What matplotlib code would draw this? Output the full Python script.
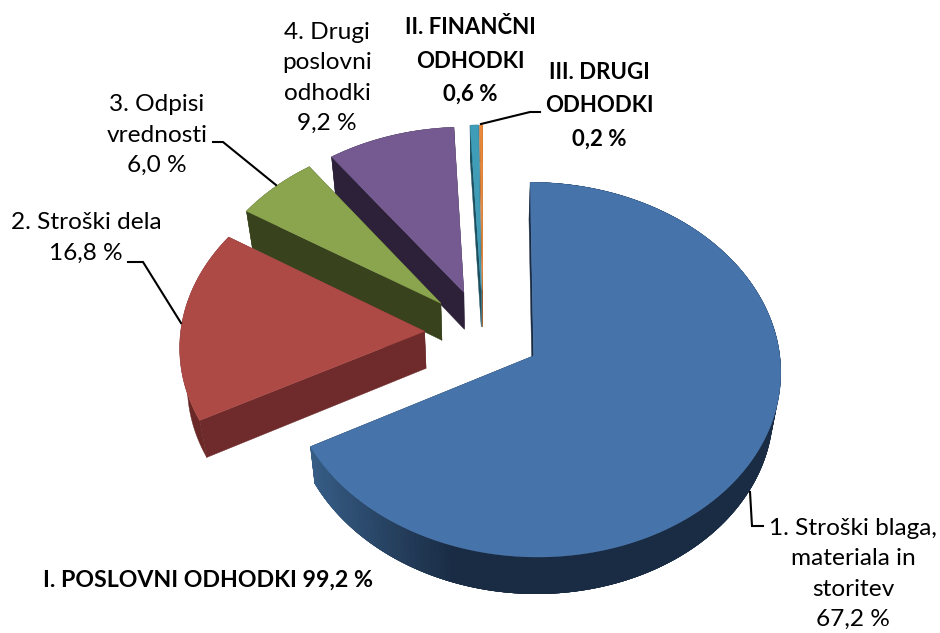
import matplotlib
matplotlib.use('Agg')
import matplotlib.pyplot as plt
import numpy as np

plt.rcParams['font.family'] = ['Lato', 'DejaVu Sans']

shares = [67.2, 16.8, 6.0, 9.2, 0.6, 0.2]
top_colors = ['#4674aa', '#ae4a46', '#8ba54f', '#745a90', '#3f9db8', '#e8893b']
side_colors = ['#1a2c44', '#6f2b2b', '#38421c', '#2c2138', '#1c4f60', '#9a5a2a']

# projection of the pie plane to image pixels
VX, VY = 483, 333
RADIUS, EXPLODE = 244, 58.5
TILT, PERSP = 0.75, 0.0003
DEPTH, SHRINK = 37, 0.975


def project(px, py):
    w = 1 / (1 - PERSP * py)
    return VX + px * w, VY + py * TILT * w


def lower(sx, sy):
    return VX + (sx - VX) * SHRINK, sy + DEPTH


def mix(c1, c2, t):
    a = np.array(matplotlib.colors.to_rgb(c1))
    b = np.array(matplotlib.colors.to_rgb(c2))
    return tuple(a + (b - a) * t)


fig = plt.figure(figsize=(9.4, 6.33), dpi=100)
ax = fig.add_axes([0, 0, 1, 1])
ax.set_xlim(0, 940)
ax.set_ylim(633, 0)
ax.axis('off')

edges = np.cumsum([0] + shares) / 100 * 2 * np.pi

# back to front: the smallest slices first, the large one last
for i in [5, 4, 3, 2, 1, 0]:
    t0, t1 = edges[i], edges[i + 1]
    mid = (t0 + t1) / 2
    ox, oy = EXPLODE * np.sin(mid), -EXPLODE * np.cos(mid)
    t = np.linspace(t0, t1, 200)
    ax_x, ax_y = project(ox, oy)
    rx, ry = project(ox + RADIUS * np.sin(t), oy - RADIUS * np.cos(t))
    bx, by = lower(rx, ry)
    apx, apy = lower(ax_x, ax_y)

    # radial side faces
    for j in [0, -1]:
        ax.fill([ax_x, rx[j], bx[j], apx], [ax_y, ry[j], by[j], apy],
                color=side_colors[i], lw=0.3, zorder=i * -3 + 20)

    # outer rim, the large slice gets a lighter left end
    if i == 0:
        # drawn from right to left with overlapping strips so no seams show
        for j in range(len(t) - 2, -1, -1):
            c = mix('#38608a', side_colors[0], np.clip((rx[j] - 313) / 165, 0, 1))
            k = min(j + 5, len(t) - 1)
            ax.fill(np.r_[rx[j:k + 1], bx[j:k + 1][::-1]], np.r_[ry[j:k + 1], by[j:k + 1][::-1]],
                    color=c, lw=0, zorder=i * -3 + 21)
    else:
        c = '#6a2826' if i == 1 else side_colors[i]
        ax.fill(np.r_[rx, bx[::-1]], np.r_[ry, by[::-1]], color=c, lw=0.3, zorder=i * -3 + 21)

    ax.fill(np.r_[ax_x, rx], np.r_[ax_y, ry], color=top_colors[i], lw=0.3, zorder=i * -3 + 22)

# leader lines
line_kw = dict(color='black', lw=1.5, zorder=30, solid_joinstyle='miter')
ax.plot([213, 223, 276], [142, 142, 185], **line_kw)
ax.plot([128, 143, 181], [262, 262, 323], **line_kw)
ax.plot([540, 530, 481], [112, 112, 124], **line_kw)
ax.plot([750, 752, 763], [492, 526, 526], **line_kw)

# data labels
text_kw = dict(ha='center', va='center', color='black', linespacing=1.56, zorder=40)
ax.text(327, 78, '4. Drugi\nposlovni\nodhodki\n9,2 %', fontsize=17.6, **text_kw)
ax.text(157, 135, '3. Odpisi\nvrednosti\n6,0 %', fontsize=17.6, **text_kw)
ax.text(86, 238, '2. Stroški dela\n16,8 %', fontsize=17.6, **text_kw)
ax.text(853, 574, '1. Stroški blaga,\nmateriala in\nstoritev\n67,2 %', fontsize=17.6, **text_kw)
bold_kw = dict(text_kw, linespacing=1.72)
ax.text(470, 61, 'II. FINANČNI\nODHODKI\n0,6 %', fontsize=16, fontweight='bold', **bold_kw)
ax.text(599, 106, 'III. DRUGI\nODHODKI\n0,2 %', fontsize=16, fontweight='bold', **bold_kw)
ax.text(208, 580, 'I. POSLOVNI ODHODKI 99,2 %', fontsize=16.7, fontweight='bold', **text_kw)

plt.savefig('out.png', dpi=100)
plt.close()
